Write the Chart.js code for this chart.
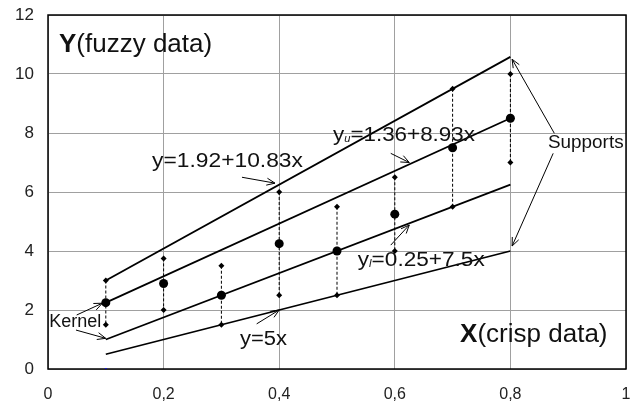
<!DOCTYPE html>
<html>
<head>
<meta charset="utf-8">
<script src="https://cdn.jsdelivr.net/npm/chart.js@4.4.0/dist/chart.umd.min.js"></script>
<style>
  html, body { margin: 0; padding: 0; background: #fff; }
  #wrap { width: 636px; height: 405px; }
</style>
</head>
<body>
<div id="wrap"><canvas id="myChart" width="636" height="405"></canvas></div>
<script>
// данные
const xValues = [0.1, 0.2, 0.3, 0.4, 0.5, 0.6, 0.7, 0.8];
const kernelValues = [2.25, 2.9, 2.5, 4.25, 4.0, 5.25, 7.5, 8.5];
const upperValues = [3.0, 3.75, 3.5, 6.0, 5.5, 6.5, 9.5, 10.0];
const lowerValues = [1.5, 2.0, 1.5, 2.5, 2.5, 4.0, 5.5, 7.0];

// концы прямых
const lineX = [0.1, 0.8];
const upperSupport = [3.0, 10.58];  // y=1.92+10.83x
const upperKernel = [2.25, 8.5];    // yu=1.36+8.93x
const lowerKernel = [1.0, 6.25];    // yl=0.25+7.5x
const lowerSupport = [0.5, 4.0];    // y=5x

const xTickLabels = ['0', '0,2', '0,4', '0,6', '0,8', '1'];
const yTickLabels = ['0', '2', '4', '6', '8', '10', '12'];

const FONT = '"Liberation Sans", Arial, sans-serif';

function pts(xs, ys) {
    return xs.map((x, i) => ({ x: x, y: ys[i] }));
}

// пунктир между верхней и нижней точкой
let spans = [];
xValues.forEach((x, i) => {
    spans.push({ x: x, y: upperValues[i] });
    spans.push({ x: x, y: lowerValues[i] });
    spans.push({ x: x, y: null });
});

// подписи и стрелки (в единицах осей), stretch - растяжка по горизонтали
const labels = [
    { parts: [['Y', 'bold 26px'], ['(fuzzy data)', '26px']], x: 0.019, y: 10.98, stretch: 1 },
    { parts: [['X', 'bold 26px'], ['(crisp data)', '26px']], x: 0.713, y: 1.15, stretch: 1 },
    { parts: [['y=1.92+10.83x', '20px']], x: 0.18, y: 7.05, stretch: 1.14 },
    { parts: [['y', '20px'], ['u', 'italic 10px', 4], ['=1.36+8.93x', '20px']], x: 0.493, y: 7.93, stretch: 1.12 },
    { parts: [['y', '20px'], ['l', 'italic 10px', 4], ['=0.25+7.5x', '20px']], x: 0.536, y: 3.69, stretch: 1.13 },
    { parts: [['Supports', '18px']], x: 0.865, y: 7.67, stretch: 1.05 },
    { parts: [['Kernel', '18px']], x: 0.002, y: 1.6, stretch: 1 },
    { parts: [['y=5x', '20px']], x: 0.332, y: 1.0, stretch: 1.1 }
];

const arrows = [
    [0.3356, 6.50, 0.3927, 6.30],
    [0.593, 7.31, 0.625, 7.0],
    [0.876, 7.99, 0.803, 10.50],
    [0.874, 7.31, 0.803, 4.17],
    [0.593, 4.20, 0.625, 4.88],
    [0.0496, 1.83, 0.094, 2.23],
    [0.0484, 1.32, 0.0998, 1.04],
    [0.361, 1.53, 0.400, 2.0]
];

const annotate = {
    id: 'annotate',
    beforeDatasetsDraw(chart) {
        const { ctx, chartArea: a } = chart;
        ctx.save();
        ctx.strokeStyle = '#000';
        ctx.lineWidth = 1.5;
        ctx.strokeRect(a.left, a.top, a.right - a.left, a.bottom - a.top);
        ctx.restore();
    },
    afterDatasetsDraw(chart) {
        const { ctx, scales } = chart;
        const sx = scales.x, sy = scales.y;
        ctx.save();
        ctx.fillStyle = '#111';
        ctx.textBaseline = 'middle';
        ctx.textAlign = 'left';
        labels.forEach(l => {
            const x0 = sx.getPixelForValue(l.x);
            const py = sy.getPixelForValue(l.y);
            ctx.save();
            ctx.translate(x0, py);
            ctx.scale(l.stretch, 1);
            let px = 0;
            l.parts.forEach(p => {
                ctx.font = p[1] + ' ' + FONT;
                ctx.fillText(p[0], px, p[2] || 0);
                px += ctx.measureText(p[0]).width;
            });
            ctx.restore();
        });

        ctx.strokeStyle = '#000';
        ctx.lineWidth = 1;
        arrows.forEach(ar => {
            const x1 = sx.getPixelForValue(ar[0]), y1 = sy.getPixelForValue(ar[1]);
            const x2 = sx.getPixelForValue(ar[2]), y2 = sy.getPixelForValue(ar[3]);
            const ang = Math.atan2(y2 - y1, x2 - x1);
            const len = 9, spread = 0.4;
            ctx.beginPath();
            ctx.moveTo(x1, y1);
            ctx.lineTo(x2, y2);
            ctx.moveTo(x2 - len * Math.cos(ang - spread), y2 - len * Math.sin(ang - spread));
            ctx.lineTo(x2, y2);
            ctx.lineTo(x2 - len * Math.cos(ang + spread), y2 - len * Math.sin(ang + spread));
            ctx.stroke();
        });
        ctx.restore();
    }
};

const lineStyle = {
    borderColor: '#000',
    borderWidth: 1.8,
    pointRadius: 0,
    showLine: true,
    fill: false
};

// без авто-отступов под подписи крайних делений
function noPad(scale) {
    scale.paddingLeft = 0;
    scale.paddingRight = 0;
    scale.paddingTop = 0;
    scale.paddingBottom = 0;
}

const ctx = document.getElementById('myChart').getContext('2d');

const myChart = new Chart(ctx, {
    type: 'scatter',
    data: {
        datasets: [
            Object.assign({ data: pts(lineX, upperSupport) }, lineStyle),
            Object.assign({ data: pts(lineX, upperKernel) }, lineStyle),
            Object.assign({ data: pts(lineX, lowerKernel) }, lineStyle),
            Object.assign({ data: pts(lineX, lowerSupport) }, lineStyle),
            {
                data: spans,
                showLine: true,
                spanGaps: false,
                borderColor: '#000',
                borderWidth: 1,
                borderDash: [3, 2],
                pointRadius: 0
            },
            {
                data: pts(xValues, upperValues),
                pointStyle: 'rectRot',
                pointRadius: 3,
                backgroundColor: '#000',
                borderColor: '#000',
                borderWidth: 0
            },
            {
                data: pts(xValues, lowerValues),
                pointStyle: 'rectRot',
                pointRadius: 3,
                backgroundColor: '#000',
                borderColor: '#000',
                borderWidth: 0
            },
            {
                data: pts(xValues, kernelValues),
                pointStyle: 'circle',
                pointRadius: 4.5,
                backgroundColor: '#000',
                borderColor: '#000',
                borderWidth: 0
            },
            {
                data: [{ x: 0.1, y: 0 }],
                pointStyle: 'rect',
                pointRadius: 1.2,
                backgroundColor: '#0000ff',
                borderWidth: 0
            }
        ]
    },
    options: {
        responsive: false,
        animation: false,
        layout: { padding: { top: 15, right: 10, left: 0, bottom: 0 } },
        plugins: {
            legend: { display: false },
            tooltip: { enabled: false }
        },
        scales: {
            x: {
                type: 'linear',
                min: 0,
                max: 1,
                afterFit(scale) { scale.height = 36; noPad(scale); },
                ticks: {
                    stepSize: 0.2,
                    padding: 16,
                    color: '#222',
                    font: { family: FONT, size: 16 },
                    maxRotation: 0,
                    callback: (v, i) => xTickLabels[i]
                },
                grid: { color: '#a0a0a0', lineWidth: 1, drawTicks: false },
                border: { display: false }
            },
            y: {
                type: 'linear',
                min: 0,
                max: 12,
                afterFit(scale) { scale.width = 48; noPad(scale); },
                ticks: {
                    stepSize: 2,
                    padding: 14,
                    color: '#222',
                    font: { family: FONT, size: 17 },
                    callback: (v, i) => yTickLabels[i]
                },
                grid: { color: '#a0a0a0', lineWidth: 1, drawTicks: false },
                border: { display: false }
            }
        }
    },
    plugins: [annotate]
});
</script>
</body>
</html>
